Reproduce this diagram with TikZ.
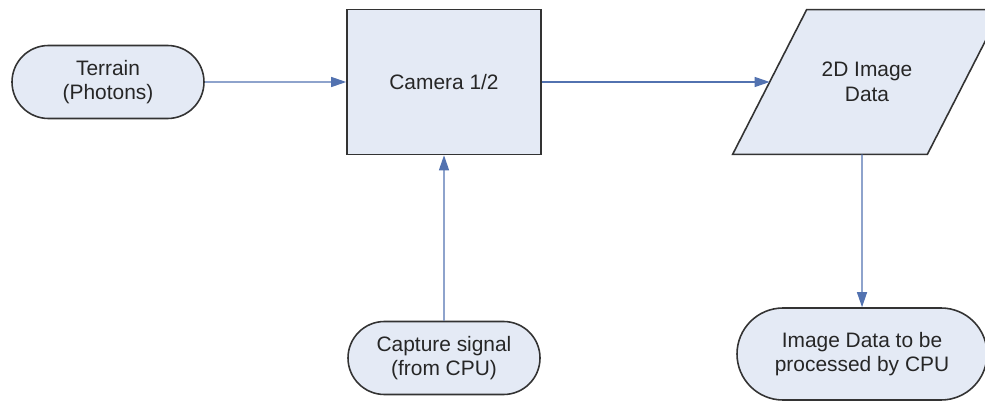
\documentclass[tikz,border=0pt]{standalone}
\usepackage{fontspec}
\setmainfont{Liberation Sans}
\usepackage{xcolor}
\usepackage{tikz}
\usetikzlibrary{arrows.meta,positioning,shapes.misc,backgrounds}
\definecolor{vsFill}{HTML}{E4EAF5}
\definecolor{vsEdge}{HTML}{333333}
\definecolor{vsBlue}{HTML}{5272B0}

\begin{document}
\begin{tikzpicture}[
    box/.style={rectangle, draw=vsEdge, line width=0.9pt, fill=vsFill, text=black!85, minimum width=3.88cm, minimum height=2.9cm, align=center, font=\fontsize{11.9}{14}\selectfont},
    term/.style={rounded rectangle, draw=vsEdge, line width=0.9pt, fill=vsFill, text=black!85, minimum width=3.84cm, minimum height=1.46cm, inner sep=0pt, align=center, font=\fontsize{11.9}{14}\selectfont},
    data/.style={rectangle, text=black!85, minimum width=3.88cm, minimum height=2.88cm, align=center, font=\fontsize{11.9}{14}\selectfont},
    slanted/.style={draw=vsEdge, line width=0.9pt, fill=vsFill},
    arrow/.style={-{Triangle[length=0.3cm, width=0.2cm]}, line width=0.7pt, vsBlue}
]
\useasboundingbox (0,0) rectangle (19.7,-8.12);

% Inputs
\node[term] (terrain) at (2.16,-1.64) {Terrain\\(Photons)};
\node[box] (camera) at (8.88,-1.64) {Camera 1/2};
\node[term] (capture) at (8.88,-7.16) {Capture signal\\(from CPU)};

% Outputs
\node[data] (imgdata) at (17.34,-1.64) {2D Image\\Data};
\node[term, minimum width=5.0cm, minimum height=1.84cm] (cpudata) at (17.24,-7.08) {Image Data to be\\processed by CPU};

% Data parallelogram
\begin{scope}[on background layer]
\path[slanted] ([xshift=-0.74cm]imgdata.south west) -- ([xshift=0.74cm]imgdata.north west)
    -- ([xshift=0.74cm]imgdata.north east) -- ([xshift=-0.74cm]imgdata.south east) -- cycle;
\end{scope}

% Arrows
\draw[arrow] (terrain) -- (camera);
\draw[arrow] (camera) -- (imgdata);
\draw[arrow] (capture) -- (camera);
\draw[arrow] (imgdata.south -| cpudata.north) -- (cpudata);

\end{tikzpicture}
\end{document}
